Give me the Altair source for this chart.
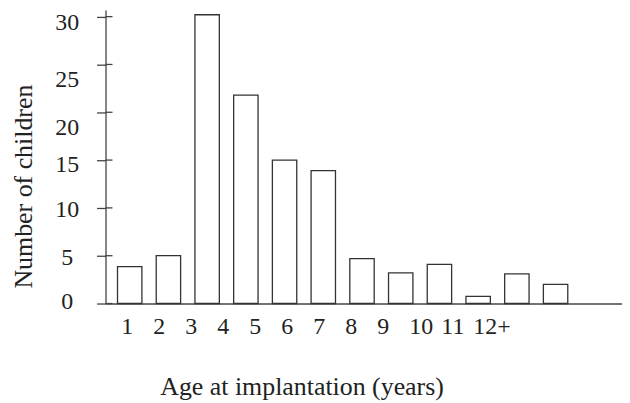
import json
import altair as alt
import pandas as pd

# ---- data ----
ages = ["1", "2", "3", "4", "5", "6", "7", "8", "9", "10", "11", "12+"]
children = [3.85, 5.0, 30.2, 21.8, 15.0, 13.9, 4.7, 3.2, 4.1, 0.75, 3.1, 2.0]
y_ticks = [0, 5, 10, 15, 20, 25, 30]

df = pd.DataFrame({"age": ages, "children": children, "idx": list(range(len(ages)))})
ticks_df = pd.DataFrame({"v": y_ticks})

FONT = "Liberation Serif"
INK = "#222222"
LINE = "#444444"

yscale = alt.Scale(domain=[0, 30.7], nice=False, zero=True)

bars = alt.Chart(df).mark_bar(fill="white", stroke="#333333", strokeWidth=1.3).encode(
    x=alt.X(
        "age:N",
        sort=ages,
        scale=alt.Scale(paddingInner=0.37, paddingOuter=0.855, align=0.181),
        axis=alt.Axis(title=None, labels=False, ticks=False, domainColor=LINE, domainWidth=1.3),
    ),
    y=alt.Y(
        "children:Q",
        scale=yscale,
        axis=alt.Axis(
            values=y_ticks,
            grid=False,
            tickSize=9,
            tickColor=LINE,
            tickWidth=1.3,
            domainColor=LINE,
            domainWidth=1.3,
            labelFont=FONT,
            labelFontSize=24,
            labelColor=INK,
            labelAlign="center",
            labelPadding=30,
            labelOverlap=False,
            labelOffset={
                "condition": [
                    {"test": "datum.value === 25", "value": 15},
                    {"test": "datum.value === 20", "value": 15},
                    {"test": "datum.value === 30", "value": 6},
                    {"test": "datum.value === 15", "value": 4},
                    {"test": "datum.value === 0", "value": -2},
                ],
                "value": 2,
            },
            title="Number of children",
            titleFont=FONT,
            titleFontSize=26,
            titleFontWeight="normal",
            titleColor=INK,
            titleX=-74,
            titleY=177,
            titleAngle=270,
            titleAlign="center",
            titleBaseline="alphabetic",
        ),
    ),
)

stubs = alt.Chart(ticks_df).mark_rule(color=LINE, strokeWidth=1.3).encode(
    y=alt.Y("v:Q", scale=yscale),
    x=alt.value(0),
    x2=alt.value(7),
)

label_expr = json.dumps(ages) + "[datum.value]"

labels_layer = alt.Chart(df).mark_point(opacity=0).encode(
    x=alt.X(
        "idx:Q",
        scale=alt.Scale(domain=[-0.479, 15.66], nice=False, zero=False),
        axis=alt.Axis(
            orient="bottom",
            values=list(range(len(ages))),
            labelExpr=label_expr,
            labelFlush=False,
            labelOverlap=False,
            domain=False,
            ticks=False,
            tickSize=0,
            grid=False,
            labelAngle=0,
            labelAlign="left",
            labelFont=FONT,
            labelFontSize=24,
            labelColor=INK,
            labelBaseline="alphabetic",
            labelPadding=30,
            title="Age at implantation (years)",
            titleFont=FONT,
            titleFontSize=26,
            titleFontWeight="normal",
            titleColor=INK,
            titleX=197,
            titleY=91,
            titleAlign="center",
            titleBaseline="alphabetic",
        ),
    ),
    y=alt.value(0),
)

chart = (
    alt.layer(bars, stubs, labels_layer)
    .resolve_scale(x="independent")
    .properties(
        width=519,
        height=295,
        padding={"left": 98, "top": 1, "right": 0, "bottom": 99},
        autosize=alt.AutoSizeParams(type="none"),
        background="white",
    )
    .configure_view(strokeWidth=0)
    .configure_axis(grid=False)
)

chart.save("out.html", embed_options={"renderer": "svg", "actions": False})
